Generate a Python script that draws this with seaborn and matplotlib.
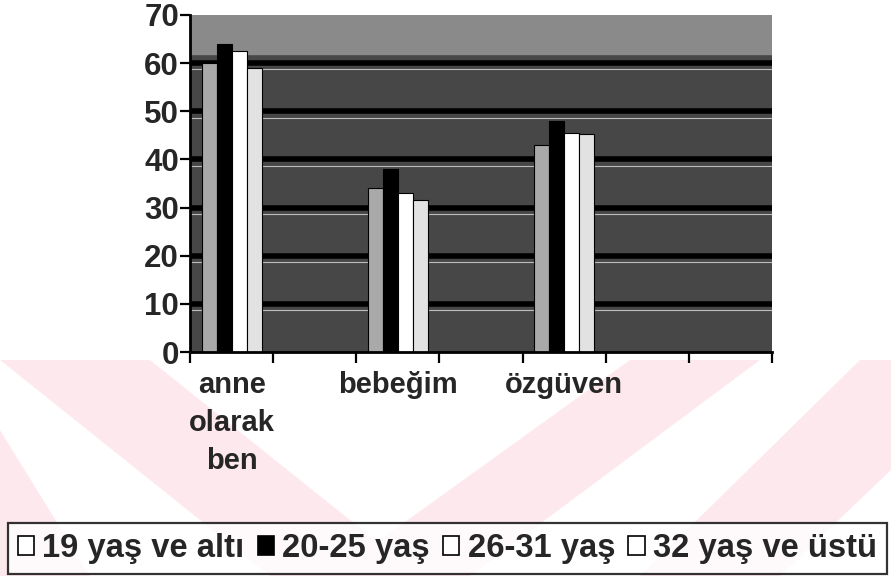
import numpy as np
import pandas as pd
import matplotlib
matplotlib.use("Agg")
import matplotlib.pyplot as plt
from matplotlib.patches import Patch, Polygon
import seaborn as sns

# ---- data ----
categories = ["anne\nolarak\nben", "bebeğim", "özgüven"]
slot_order = ["anne\nolarak\nben", " ", "bebeğim", "  ", "özgüven", "   ", "    "]
groups = ["19 yaş ve altı", "20-25 yaş", "26-31 yaş", "32 yaş ve üstü"]
v_19_alti = [60, 34, 43]
v_20_25 = [64, 38, 48]
v_26_31 = [62.5, 33, 45.5]
v_32_ustu = [59, 31.5, 45.3]
y_ticks = [0, 10, 20, 30, 40, 50, 60, 70]

series = [v_19_alti, v_20_25, v_26_31, v_32_ustu]
df = pd.DataFrame(
    [(c, g, v) for g, vals in zip(groups, series) for c, v in zip(categories, vals)],
    columns=["kategori", "grup", "deger"],
)

bar_colors = {groups[0]: "#a9a9a9", groups[1]: "#000000",
              groups[2]: "#ffffff", groups[3]: "#e2e2e2"}
legend_face = ["#ffffff", "#000000", "#ffffff", "#ffffff"]

sns.set_theme(style="white")
plt.rcParams["font.family"] = ["Liberation Sans", "DejaVu Sans"]
plt.rcParams["font.weight"] = "bold"

W, H = 891, 576
fig = plt.figure(figsize=(W / 100, H / 100), dpi=100)
fig.patch.set_facecolor("white")

# faint pink watermark stripes in a background layer
bg = fig.add_axes([0, 0, 1, 1], zorder=-10)
bg.set_xlim(0, W)
bg.set_ylim(H, 0)
bg.axis("off")
wm = "#fde9ed"
for pts in [
    [(0, 360), (150, 360), (420, 576), (270, 576)],
    [(330, 576), (470, 576), (760, 360), (630, 360)],
    [(640, 576), (780, 576), (891, 470), (891, 360), (860, 360)],
    [(0, 430), (0, 576), (90, 576)],
]:
    bg.add_patch(Polygon(pts, closed=True, facecolor=wm, edgecolor="none"))

ax = fig.add_axes([190 / W, 1 - 352 / H, (772 - 190) / W, (352 - 15) / H], zorder=1)
ax.set_facecolor("#474747")
ax.axhspan(62, 70, color="#8a8a8a", zorder=0)
for yv in y_ticks[1:-1]:
    ax.axhline(yv, color="black", lw=4, zorder=0.5)
    ax.axhline(yv - 1.3, color="#bdbdbd", lw=0.8, zorder=0.5)

sns.barplot(data=df, x="kategori", y="deger", hue="grup", order=slot_order,
            hue_order=groups, palette=bar_colors, width=0.72, saturation=1,
            edgecolor="black", linewidth=0.8, errorbar=None, legend=False, ax=ax)

ax.set_xlim(-0.5, len(slot_order) - 0.5)
ax.set_ylim(0, 70)
ax.set_yticks(y_ticks)
ax.set_xlabel("")
ax.set_ylabel("")

for s in ["top", "right"]:
    ax.spines[s].set_visible(False)
for s in ["left", "bottom"]:
    ax.spines[s].set_color("black")
    ax.spines[s].set_linewidth(2)

ax.tick_params(axis="y", which="major", direction="out", length=7, width=1.6,
               color="black", labelsize=22.5, pad=1, left=True)
for lab in ax.get_yticklabels():
    lab.set_fontweight("bold")

ax.set_xticks(range(len(slot_order)))
ax.set_xticklabels(slot_order)
ax.tick_params(axis="x", which="major", length=0, labelsize=21, pad=14)
for lab in ax.get_xticklabels():
    lab.set_fontweight("bold")
    lab.set_linespacing(1.45)
    lab.set_verticalalignment("top")
ax.set_xticks(np.arange(-0.5, len(slot_order)), minor=True)
ax.tick_params(axis="x", which="minor", direction="out", length=8, width=1.6,
               color="black", bottom=True)

handles = [Patch(facecolor=fc, edgecolor="black", linewidth=1.2) for fc in legend_face]
leg = fig.legend(handles, groups, loc="lower left", bbox_to_anchor=(8 / W, 2 / H),
                 ncol=4, frameon=True, fancybox=False, edgecolor="black",
                 prop={"size": 23.6, "weight": "bold"}, handlelength=0.5,
                 handleheight=0.5, handletextpad=0.25, columnspacing=0.4,
                 borderpad=0.3, borderaxespad=0)
leg.get_frame().set_linewidth(1.6)
leg.set_zorder(5)

fig.savefig("out.png", dpi=100, facecolor="white")
